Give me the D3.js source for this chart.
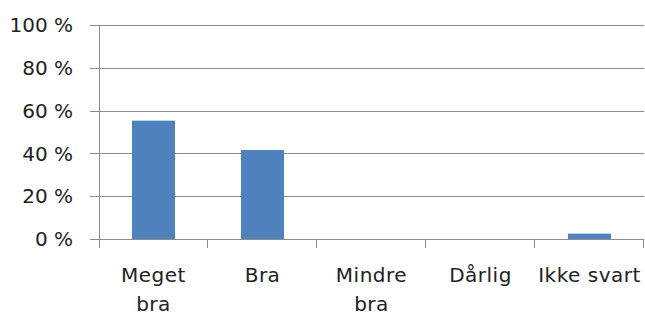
<!DOCTYPE html>
<html>
<head>
<meta charset="utf-8">
<script src="https://cdn.jsdelivr.net/npm/d3@7"></script>
<style>
  body { margin: 0; background: #fff; }
  text { font-family: "DejaVu Sans", sans-serif; fill: #222; }
</style>
</head>
<body>
<div id="chart"></div>
<script>
// Data
var categories = [["Meget", "bra"], ["Bra"], ["Mindre", "bra"], ["Dårlig"], ["Ikke svart"]]
var values = [55.3, 41.6, 0, 0, 2.5]
var yTicks = [0, 20, 40, 60, 80, 100]

var margin = { left: 99, right: 1, top: 25, bottom: 76 }
var width = 645 - margin.left - margin.right
var height = 315 - margin.top - margin.bottom

var svg = d3.select("#chart")
    .append("svg")
        .attr("width", 645)
        .attr("height", 315)

var g = svg.append("g")
    .attr("transform", "translate(" + margin.left + ", " + margin.top + ")")

var x = d3.scaleBand()
    .domain(d3.range(categories.length))
    .range([0, width])
    .paddingInner(0.605)
    .paddingOuter(0.3025)

var y = d3.scaleLinear()
    .domain([0, 100])
    .range([height, 0])

// gridlines
g.selectAll(".grid")
    .data(yTicks)
    .join("line")
        .attr("class", "grid")
        .attr("x1", -9)
        .attr("x2", width)
        .attr("y1", d => Math.round(y(d)) + 0.5)
        .attr("y2", d => Math.round(y(d)) + 0.5)
        .attr("stroke", "#8c8c8c")
        .attr("stroke-width", 1)

// y axis line
g.append("line")
    .attr("x1", 0.5).attr("x2", 0.5)
    .attr("y1", 0).attr("y2", height + 9)
    .attr("stroke", "#8c8c8c")

// category ticks
var step = width / categories.length
g.selectAll(".xtick")
    .data(d3.range(1, categories.length + 1))
    .join("line")
        .attr("class", "xtick")
        .attr("x1", d => Math.round(d * step) - 0.5)
        .attr("x2", d => Math.round(d * step) - 0.5)
        .attr("y1", height)
        .attr("y2", height + 9)
        .attr("stroke", "#8c8c8c")

// y labels
g.selectAll(".ylabel")
    .data(yTicks)
    .join("text")
        .attr("class", "ylabel")
        .attr("x", -26)
        .attr("y", d => y(d))
        .attr("dy", "0.36em")
        .attr("text-anchor", "end")
        .attr("font-size", "20px")
        .text(d => d + " %")

// bars
g.selectAll("rect")
    .data(values)
    .join("rect")
        .attr("x", (d, i) => x(i))
        .attr("width", x.bandwidth())
        .attr("y", d => y(d))
        .attr("height", d => height - y(d))
        .attr("fill", "#4f81bd")

// x labels
var xl = g.selectAll(".xlabel")
    .data(categories)
    .join("text")
        .attr("class", "xlabel")
        .attr("text-anchor", "middle")
        .attr("font-size", "20px")
        .attr("letter-spacing", "0.5px")
        .attr("transform", (d, i) => "translate(" + (x(i) + x.bandwidth() / 2) + "," + (height + 43) + ")")

xl.selectAll("tspan")
    .data(d => d)
    .join("tspan")
        .attr("x", 0)
        .attr("y", (d, i) => i * 29)
        .text(d => d)
</script>
</body>
</html>
